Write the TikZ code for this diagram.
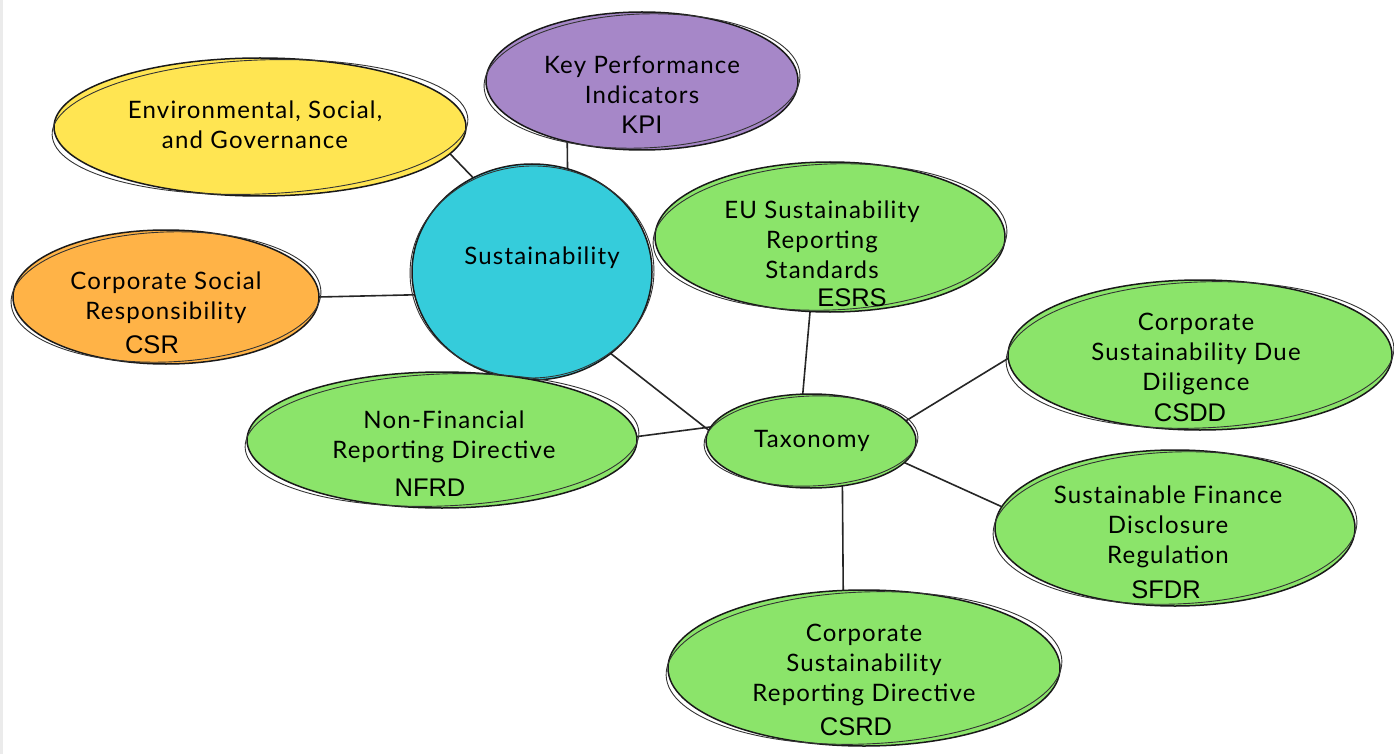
\documentclass[tikz,border=0pt]{standalone}
\usepackage{fontspec}
\setmainfont[LetterSpace=5]{Lato}
\newfontfamily\acrfont{Liberation Sans}
\usetikzlibrary{shapes.geometric}
\pgfdeclarelayer{bg}
\pgfsetlayers{bg,main}
\definecolor{cyel}{HTML}{FFE552}
\definecolor{cpur}{HTML}{A687C8}
\definecolor{cora}{HTML}{FFB347}
\definecolor{ccya}{HTML}{35CCDB}
\definecolor{cgrn}{HTML}{8BE46A}
\definecolor{cedge}{HTML}{EBEBEB}
\tikzset{
  blob/.style={ellipse, draw=black!90, line width=1.5pt, inner sep=0pt, outer sep=0pt},
  hand/.style={align=center, inner sep=0pt, font=\fontsize{24}{30}\selectfont},
  acr/.style={inner sep=0pt, font=\acrfont\fontsize{25.5}{28}\selectfont},
  link/.style={draw=black!85, line width=1.6pt},
}
\newcommand\sketchblob[6]{%
  \node[blob, fill=#6, minimum width={2*#4 pt}, minimum height={2*#5 pt}] (#1) at (#2,#3) {};
  \draw[line width=0.9pt, black!80] (#2,#3) ellipse [x radius={#4pt+2pt}, y radius={#5pt-2pt}, rotate=2.2];
}
\begin{document}
\begin{tikzpicture}[x=1pt,y=-1pt]
\useasboundingbox (0,0) rectangle (1394,754);
\begin{pgfonlayer}{bg}
\fill[white] (0,0) rectangle (1394,754);
\fill[cedge] (0,0) rectangle (2.5,754);
\end{pgfonlayer}

\sketchblob{esg}{260}{127}{206}{69}{cyel}
\sketchblob{kpi}{642}{81}{156}{69}{cpur}
\sketchblob{csr}{166}{297}{153}{67}{cora}
\sketchblob{sust}{532}{272}{120}{108}{ccya}
\sketchblob{esrs}{830}{237}{175}{75}{cgrn}
\sketchblob{csdd}{1200}{355}{192}{75}{cgrn}
\sketchblob{tax}{811}{441}{105}{47}{cgrn}
\sketchblob{sfdr}{1175}{528}{180}{78}{cgrn}
\sketchblob{nfrd}{442}{440}{195}{68}{cgrn}
\sketchblob{csrd}{864}{668}{196}{78}{cgrn}

\begin{pgfonlayer}{bg}
\draw[link] (esg.352) -- (sust.122);
\draw[link] (kpi.219) -- (sust.71);
\draw[link] (csr.0) -- (sust.191);
\draw[link] (sust.314) -- (tax.174);
\draw[link] (esrs.255) -- (tax.100);
\draw[link] (nfrd.1) -- (tax.172);
\draw[link] (tax.12) -- (csdd.181);
\draw[link] (tax.347) -- (sfdr.173);
\draw[link] (tax.305) -- (csrd.105);
\end{pgfonlayer}

\node[hand] (esgt) at (255,125) {Environmental, Social,\\and Governance};
\node[hand] (kpit) at (642,80) {Key Performance\\Indicators};
\node[acr] (kpia) at (642,125) {KPI};
\node[hand] (sustt) at (542,258) {Sustainability};
\node[hand] (csrt) at (166,298) {Corporate Social\\Responsibility};
\node[acr] (csra) at (152,345) {CSR};
\node[hand] (esrst) at (822,240) {EU Sustainability\\Reporting\\Standards};
\node[acr] (esrsa) at (852,298) {ESRS};
\node[hand] (csddt) at (1196,354) {Corporate\\Sustainability Due\\Diligence};
\node[acr] (csdda) at (1190,413) {CSDD};
\node[hand] (taxt) at (812,441) {Taxonomy};
\node[hand] (sfdrt) at (1168,527) {Sustainable Finance\\Disclosure\\Regulation};
\node[acr] (sfdra) at (1166,590) {SFDR};
\node[hand] (nfrdt) at (444,437) {Non-Financial\\Reporting Directive};
\node[acr] (nfrda) at (430,488) {NFRD};
\node[hand] (csrdt) at (864,665) {Corporate\\Sustainability\\Reporting Directive};
\node[acr] (csrda) at (856,727) {CSRD};
\end{tikzpicture}
\end{document}
